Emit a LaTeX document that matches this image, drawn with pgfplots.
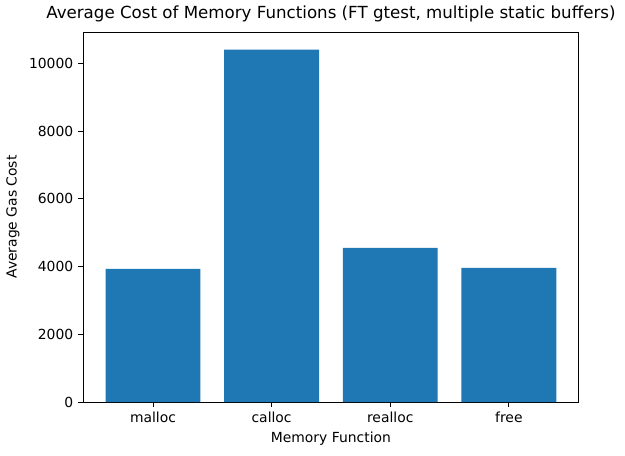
\documentclass[border=0pt]{standalone}
\usepackage{fontspec}
\setmainfont{DejaVu Sans}
\usepackage{pgfplots}
\pgfplotsset{compat=1.18}
\definecolor{mplblue}{HTML}{1F77B4}
\begin{document}
\begin{tikzpicture}
\begin{axis}[
  at={(0,0)}, anchor=south west,
  scale only axis, width=357pt, height=266.4pt,
  ybar, bar width=0.8,
  xmin=-0.59, xmax=3.59, ymin=0, ymax=10930,
  xtick={0,1,2,3},
  xticklabels={malloc,calloc,realloc,free},
  ytick={0,2000,4000,6000,8000,10000},
  scaled y ticks=false,
  /pgf/number format/1000 sep={},
  /pgf/number format/assume math mode=true,
  tick label style={font=\fontsize{10}{12}\selectfont},
  label style={font=\fontsize{10}{12}\selectfont},
  title style={font=\fontsize{12}{14}\selectfont, yshift=-2pt},
  title={Average Cost of Memory Functions (FT gtest, multiple static buffers)},
  xlabel={Memory Function},
  ylabel={Average Gas Cost},
  tick align=outside, major tick length=3.5pt,
  xtick pos=bottom, ytick pos=left,
  axis line style={line width=0.6pt},
  tick style={line width=0.6pt, black},
]
\addplot[fill=mplblue, draw=none] coordinates {
  (0,3930) (1,10410) (2,4550) (3,3960)
};
\end{axis}
\path[use as bounding box] (-59.76pt,-38.16pt) rectangle (390.24pt,289.44pt);
\end{tikzpicture}
\end{document}
